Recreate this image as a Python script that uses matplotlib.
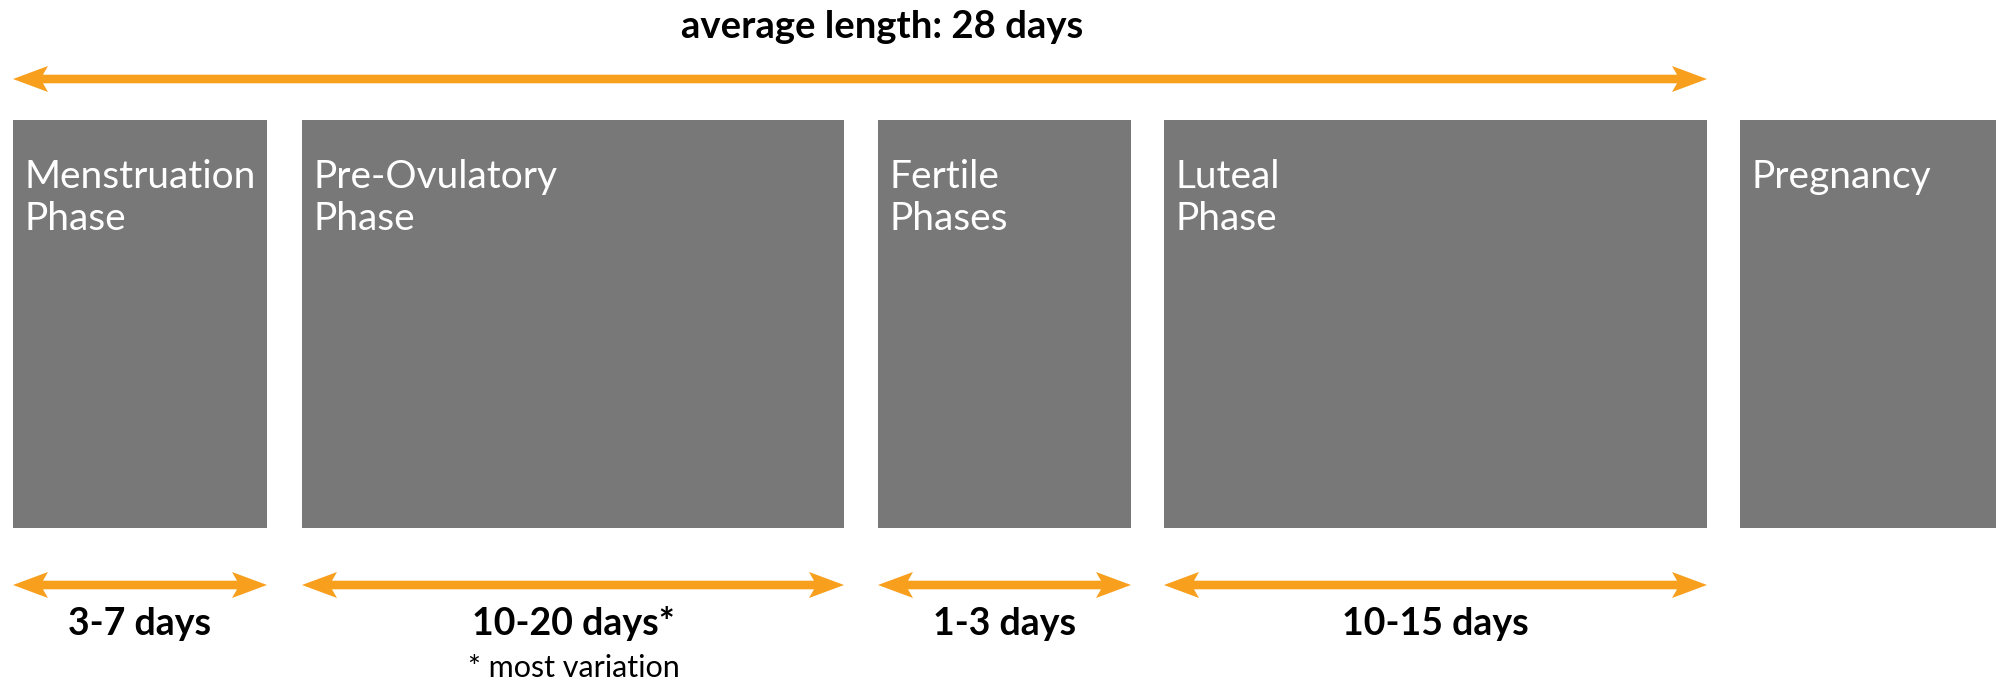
import numpy as np
import matplotlib
matplotlib.use('Agg')
import matplotlib.pyplot as plt
from matplotlib.patches import Polygon

# Phase labels and their typical durations
phases = ['Menstruation\nPhase', 'Pre-Ovulatory\nPhase', 'Fertile\nPhases', 'Luteal\nPhase', 'Pregnancy']
durations = ['3-7 days', '10-20 days*', '1-3 days', '10-15 days', '']
title = 'average length: 28 days'
footnote = '* most variation'

# layout (pixel units, y down)
box_left = [13, 302, 878, 1164, 1740]
box_right = [267, 844, 1131, 1707, 1996]
box_top, box_bottom = 120, 528

grey = '#787878'
orange = '#F89F1E'
label_font = ['Lato', 'DejaVu Sans']
bold_font = ['Lato', 'DejaVu Sans']

fig = plt.figure(figsize=(19.99, 6.82), dpi=100)
ax = fig.add_axes([0, 0, 1, 1])
ax.set_xlim(0, 1999)
ax.set_ylim(682, 0)
ax.axis('off')


def double_arrow(x0, x1, y, head_len=35, head_w=13, notch=30, half=4.3):
    pts = [
        (x0, y),
        (x0 + head_len, y - head_w),
        (x0 + notch, y - half),
        (x1 - notch, y - half),
        (x1 - head_len, y - head_w),
        (x1, y),
        (x1 - head_len, y + head_w),
        (x1 - notch, y + half),
        (x0 + notch, y + half),
        (x0 + head_len, y + head_w),
    ]
    ax.add_patch(Polygon(pts, closed=True, facecolor=orange, edgecolor='none'))


# boxes
widths = [r - l for l, r in zip(box_left, box_right)]
ax.bar(box_left, box_bottom - box_top, width=widths, bottom=box_top,
       align='edge', color=grey, edgecolor='none')

for l, name in zip(box_left, phases):
    for i, line in enumerate(name.split('\n')):
        ax.text(l + 12, 188 + 42 * i, line, color='white', fontsize=28,
                family=label_font, ha='left', va='baseline')

# overall cycle arrow and title
double_arrow(box_left[0], box_right[3], 79)
ax.text(882, 38, title, fontsize=27.5, fontweight='bold', family=bold_font,
        ha='center', va='baseline')

# duration arrows under each phase
for l, r, d in zip(box_left, box_right, durations):
    if not d:
        continue
    double_arrow(l, r, 585)
    ax.text((l + r) / 2, 635, d, fontsize=27, fontweight='bold',
            family=bold_font, ha='center', va='baseline')

ax.text(468, 677, footnote, fontsize=22, family=label_font,
        ha='left', va='baseline')

fig.savefig('out.png', dpi=100)
